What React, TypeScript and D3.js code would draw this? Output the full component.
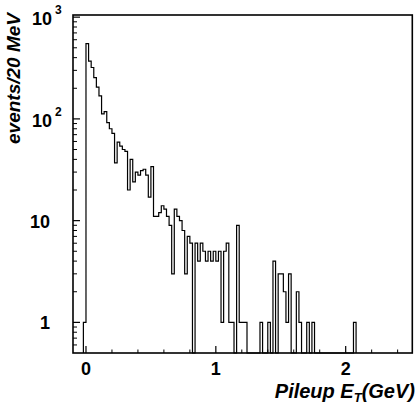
import React from "react";
import * as d3 from "d3";

// histogram: bins of 20 MeV starting at -0.02 GeV
const binStart = -0.02;
const binWidth = 0.02;
const counts = [
  1, 550, 370, 320, 255, 205, 168, 112, 118, 92, 80, 72, 37, 59, 54, 50, 48, 20, 40, 24,
  30, 28, 31, 32, 28, 17, 34, 11, 11, 12, 14, 13, 11, 9, 3, 13, 11, 10, 8, 3,
  7, 6, 0, 6, 4, 6, 5, 4, 5, 4, 5, 4, 5, 1, 5, 6, 1, 1, 0, 9,
  1, 1, 1, 0, 0, 0, 0, 0, 1, 0, 0, 1, 0, 4, 0, 3, 3, 2, 1, 3,
  0, 0, 2, 1, 0, 0, 1, 0, 1, 0, 0, 0, 0, 0, 0, 0, 0, 0, 0, 0,
  0, 0, 0, 0, 1,
];

const xDomain = [-0.1, 2.513];
const yDomain = [0.5, 1050];
const xMajorTicks = [0, 1, 2];
const xMinorTicks = [0.2, 0.4, 0.6, 0.8, 1.2, 1.4, 1.6, 1.8, 2.2, 2.4];
const yMajorTicks = [1, 10, 100, 1000];
const yMinorTicks = [
  0.6, 0.7, 0.8, 0.9, 2, 3, 4, 5, 6, 7, 8, 9, 20, 30, 40, 50, 60, 70, 80, 90,
  200, 300, 400, 500, 600, 700, 800, 900,
];
const yTitle = "events/20 MeV";

const W = 417;
const H = 412;
const L = 73;
const R = 412.3;
const T = 15;
const B = 353;
const FONT = "'Liberation Sans', Arial, Helvetica, sans-serif";

export default function App() {
  const x = d3.scaleLinear().domain(xDomain).range([L, R]);
  const y = d3.scaleLog().domain(yDomain).range([B, T]);

  const pts: [number, number][] = [];
  pts.push([x(binStart), B]);
  counts.forEach((c, i) => {
    const lo = binStart + i * binWidth;
    const hi = lo + binWidth;
    const yy = c > 0 ? y(c) : B;
    pts.push([x(lo), yy]);
    pts.push([x(hi), yy]);
  });
  pts.push([x(binStart + counts.length * binWidth), B]);
  const path = d3.line()(pts) || "";

  return (
    <svg
      width={W}
      height={H}
      style={{ position: "absolute", left: 0, top: 0, background: "#fff" }}
      fontFamily={FONT}
    >
      <rect x={0} y={0} width={W} height={H} fill="#fff" />
      <path d={path} fill="none" stroke="#000" strokeWidth={1.2} />
      {/* frame */}
      <rect x={L} y={T} width={R - L} height={B - T} fill="none" stroke="#000" strokeWidth={1.6} />
      {/* y ticks */}
      {yMajorTicks.map((v) => (
        <line key={"ym" + v} x1={L} x2={L + 7} y1={y(v)} y2={y(v)} stroke="#000" strokeWidth={1.2} />
      ))}
      {yMinorTicks.map((v) => (
        <line key={"yn" + v} x1={L} x2={L + 4} y1={y(v)} y2={y(v)} stroke="#000" strokeWidth={1} />
      ))}
      {/* x ticks */}
      {xMajorTicks.map((v) => (
        <line key={"xm" + v} x1={x(v)} x2={x(v)} y1={B} y2={B - 7} stroke="#000" strokeWidth={1.2} />
      ))}
      {xMinorTicks.map((v) => (
        <line key={"xn" + v} x1={x(v)} x2={x(v)} y1={B} y2={B - 3.5} stroke="#000" strokeWidth={1} />
      ))}
      {/* y labels */}
      {yMajorTicks.map((v) => {
        const exp = Math.round(Math.log10(v));
        if (exp <= 1) {
          return (
            <text key={"yl" + v} x={50} y={y(v) + 7} textAnchor="end" fontSize={18} fontWeight="bold">
              {String(v)}
            </text>
          );
        }
        return (
          <g key={"yl" + v}>
            <text x={52} y={y(v) + 8} textAnchor="end" fontSize={18} fontWeight="bold">
              10
            </text>
            <text x={55} y={y(v) - 3} fontSize={12} fontWeight="bold">
              {String(exp)}
            </text>
          </g>
        );
      })}
      {/* x labels */}
      {xMajorTicks.map((v) => (
        <text key={"xl" + v} x={x(v)} y={375} textAnchor="middle" fontSize={18} fontWeight="bold">
          {String(v)}
        </text>
      ))}
      {/* titles */}
      <text x={415} y={398} textAnchor="end" fontSize={20} fontWeight="bold" fontStyle="italic">
        Pileup E
        <tspan fontSize={13} dy={4}>T</tspan>
        <tspan dy={-4}>(GeV)</tspan>
      </text>
      <text
        transform={`translate(20,13) rotate(-90)`}
        textAnchor="end"
        fontSize={19}
        fontWeight="bold"
        fontStyle="italic"
      >
        {yTitle}
      </text>
    </svg>
  );
}
